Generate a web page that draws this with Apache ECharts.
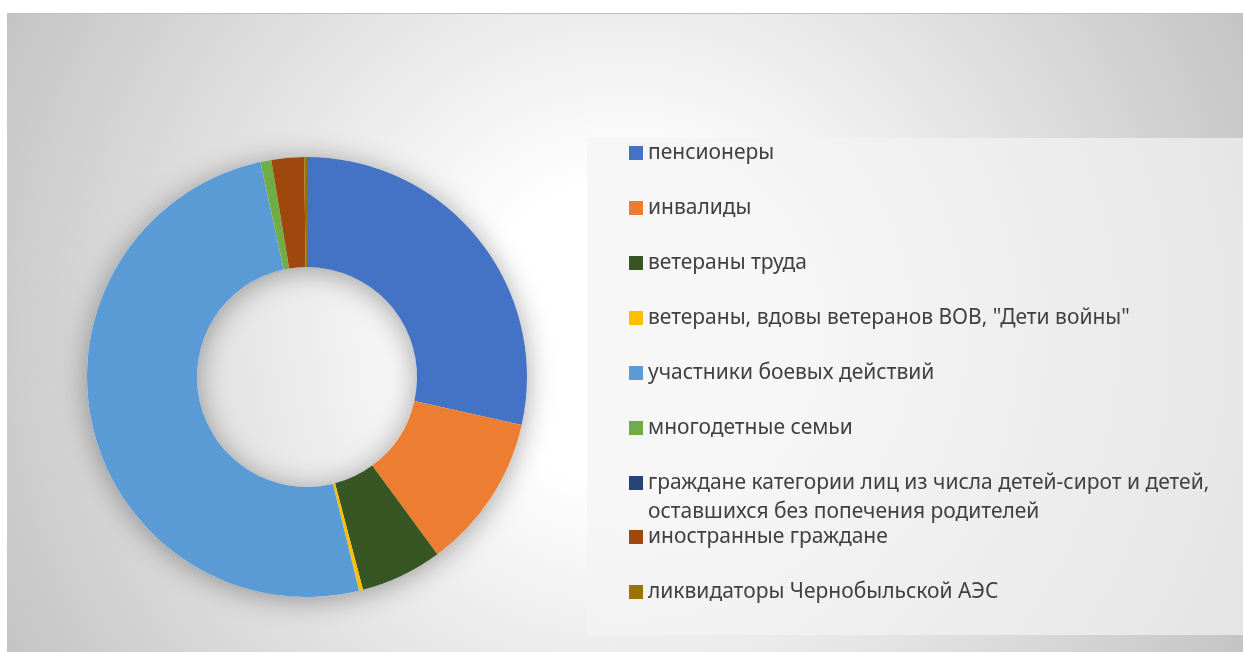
<!DOCTYPE html>
<html>
<head>
<meta charset="utf-8">
<script src="https://cdn.jsdelivr.net/npm/echarts@6/dist/echarts.min.js"></script>
<style>
  html, body { margin: 0; padding: 0; background: #fff; }
  #bg { position: absolute; left: 7px; top: 13px; width: 1236px; height: 639px;
        border-top: 1px solid #c0c0c0; box-sizing: border-box;
        background: radial-gradient(circle at 50% 50%, #ffffff 0px, #ffffff 150px, #c4c4c4 700px); }
  #legendBox { position: absolute; left: 587px; top: 138px; width: 656px; height: 497px;
               background: rgba(243, 243, 243, 0.68); }
  #chart { position: absolute; left: 0; top: 0; width: 1243px; height: 652px; }
</style>
</head>
<body>
<div id="bg"></div>
<div id="legendBox"></div>
<div id="chart"></div>
<script>
// категории и доли (%)
const categories = [
  'пенсионеры',
  'инвалиды',
  'ветераны труда',
  'ветераны, вдовы ветеранов ВОВ, "Дети войны"',
  'участники боевых действий',
  'многодетные семьи',
  'граждане категории лиц из числа детей-сирот и детей,\nоставшихся без попечения родителей',
  'иностранные граждане',
  'ликвидаторы Чернобыльской АЭС'
]
const values = [28.5, 11.4, 6.0, 0.3, 50.4, 0.8, 0.0, 2.4, 0.2]
const colors = ['#4472C4', '#ED7D31', '#375623', '#FFC000', '#5B9BD5', '#70AD47', '#264478', '#9E480E', '#997300']

const chart = echarts.init(document.getElementById('chart'))

const legendBase = {
  orient: 'vertical',
  left: 629,
  padding: 0,
  icon: 'rect',
  itemWidth: 14,
  itemHeight: 14,
  itemGap: 26,
  selectedMode: false,
  textStyle: { fontFamily: 'Noto Sans', fontSize: 21, color: '#404040', lineHeight: 29 }
}

chart.setOption({
  backgroundColor: 'transparent',
  animation: false,
  color: colors,
  legend: [
    { ...legendBase, top: 138.5, data: categories.slice(0, 6) },
    // пустая строка сверху, чтобы маркер стоял напротив первой строки
    { ...legendBase, top: 439.5, data: [categories[6]], formatter: n => '\n' + n },
    { ...legendBase, top: 522.5, data: categories.slice(7) }
  ],
  series: [
    {
      // подложка с тенью под кольцом
      type: 'pie',
      name: 'shadow',
      center: [307, 377],
      radius: [110, 220],
      silent: true,
      label: { show: false },
      labelLine: { show: false },
      data: [{ value: 1, name: '_', itemStyle: { color: '#ffffff', shadowBlur: 28, shadowColor: 'rgba(0,0,0,0.35)', shadowOffsetY: 3 } }]
    },
    {
      type: 'pie',
      center: [307, 377],
      radius: [110, 220],
      startAngle: 90,
      clockwise: true,
      avoidLabelOverlap: false,
      label: { show: false },
      labelLine: { show: false },
      itemStyle: { borderWidth: 0 },
      data: categories.map((c, i) => ({ name: c, value: values[i], itemStyle: { color: colors[i] } }))
    }
  ]
})
</script>
</body>
</html>
